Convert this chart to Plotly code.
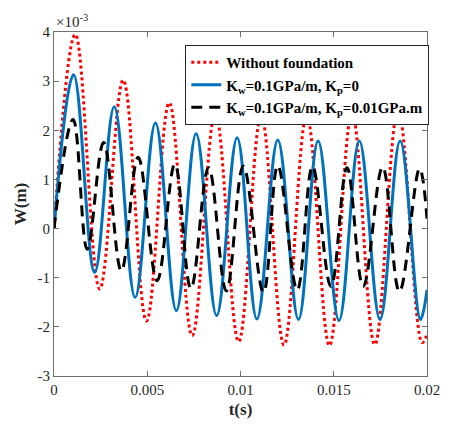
import plotly.graph_objects as go

t_red = [0, 0.00114, 0.00245, 0.00371, 0.00496, 0.00618, 0.00741, 0.00865, 0.0099,
         0.01111, 0.01233, 0.01355, 0.01477, 0.01598, 0.0172, 0.01845, 0.01974, 0.02]
w_red = [0, 3.95, -1.23, 3.02, -1.88, 2.56, -2.18, 2.35, -2.3,
         2.3, -2.37, 2.3, -2.38, 2.35, -2.36, 2.4, -2.32, -2.15]

t_blue = [0, 0.00105, 0.00218, 0.00323, 0.00435, 0.00544, 0.00656, 0.00762, 0.00872,
          0.00982, 0.01088, 0.012, 0.01311, 0.01416, 0.01528, 0.01637, 0.01748,
          0.01856, 0.01965, 0.02]
w_blue = [0, 3.13, -0.89, 2.48, -1.4, 2.15, -1.67, 1.93, -1.77,
          1.85, -1.84, 1.8, -1.85, 1.78, -1.87, 1.78, -1.85,
          1.78, -1.85, -1.25]

t_black = [0, 0.00102, 0.00178, 0.00266, 0.00361, 0.00451, 0.00553, 0.00648, 0.00734,
           0.00829, 0.00924, 0.01015, 0.01123, 0.012, 0.01304, 0.01386, 0.01485,
           0.01571, 0.01658, 0.01762, 0.01852, 0.0196, 0.02]
w_black = [0, 2.22, -0.42, 1.75, -0.86, 1.45, -1.06, 1.31, -1.22,
           1.24, -1.27, 1.27, -1.3, 1.28, -1.25, 1.26, -1.18,
           1.24, -1.18, 1.25, -1.28, 1.22, 0.2]

names = ["<b>Without foundation</b>",
         "<b>K<sub>w</sub>=0.1GPa/m, K<sub>p</sub>=0</b>",
         "<b>K<sub>w</sub>=0.1GPa/m, K<sub>p</sub>=0.01GPa.m</b>"]

x_ticks = [0, 0.005, 0.01, 0.015, 0.02]
x_ticklabels = ["0", "0.005", "0.01", "0.015", "0.02"]
y_ticks = [-3, -2, -1, 0, 1, 2, 3, 4]

FONT = "Times New Roman, Liberation Serif, serif"

fig = go.Figure()
fig.add_trace(go.Scatter(x=t_red, y=w_red, mode="lines", name=names[0],
                         line=dict(color="#FF0000", width=3, dash="3px,3px",
                                   shape="spline", smoothing=1.1)))
fig.add_trace(go.Scatter(x=t_blue, y=w_blue, mode="lines", name=names[1],
                         line=dict(color="#0072BD", width=3,
                                   shape="spline", smoothing=1.1)))
fig.add_trace(go.Scatter(x=t_black, y=w_black, mode="lines", name=names[2],
                         line=dict(color="#000000", width=3, dash="11px,7px",
                                   shape="spline", smoothing=1.1)))

axis_common = dict(showline=True, linecolor="#6e6e6e", linewidth=1, mirror="ticks",
                   ticks="inside", ticklen=5, tickcolor="#6e6e6e", showgrid=False,
                   zeroline=False, tickfont=dict(family=FONT, size=15, color="#262626"))

fig.update_xaxes(range=[0, 0.02], tickvals=x_ticks, ticktext=x_ticklabels,
                 title=dict(text="<b>t(s)</b>", font=dict(family=FONT, size=17, color="#262626"),
                            standoff=6),
                 **axis_common)
fig.update_yaxes(range=[-3, 4], tickvals=y_ticks, ticktext=[str(v) for v in y_ticks],
                 title=dict(text="<b>W(m)</b>", font=dict(family=FONT, size=17, color="#262626"),
                            standoff=6),
                 **axis_common)

fig.add_annotation(text="×10<sup>-3</sup>", xref="paper", yref="paper", x=0.0, y=1.0,
                   xanchor="left", yanchor="bottom", showarrow=False, yshift=0,
                   font=dict(family=FONT, size=15, color="#262626"))

# page body has an 8px margin, so the figure is sized/offset to compensate
fig.update_layout(
    width=444, height=420,
    margin=dict(l=42, r=16, t=24, b=51),
    paper_bgcolor="white", plot_bgcolor="white",
    font=dict(family=FONT),
    showlegend=True,
    legend=dict(x=0.352, y=0.962, xanchor="left", yanchor="top",
                bgcolor="white", bordercolor="#262626", borderwidth=1,
                font=dict(family=FONT, size=15, color="#000000"),
                tracegroupgap=0, itemwidth=30),
)

fig.write_html("out.html")
